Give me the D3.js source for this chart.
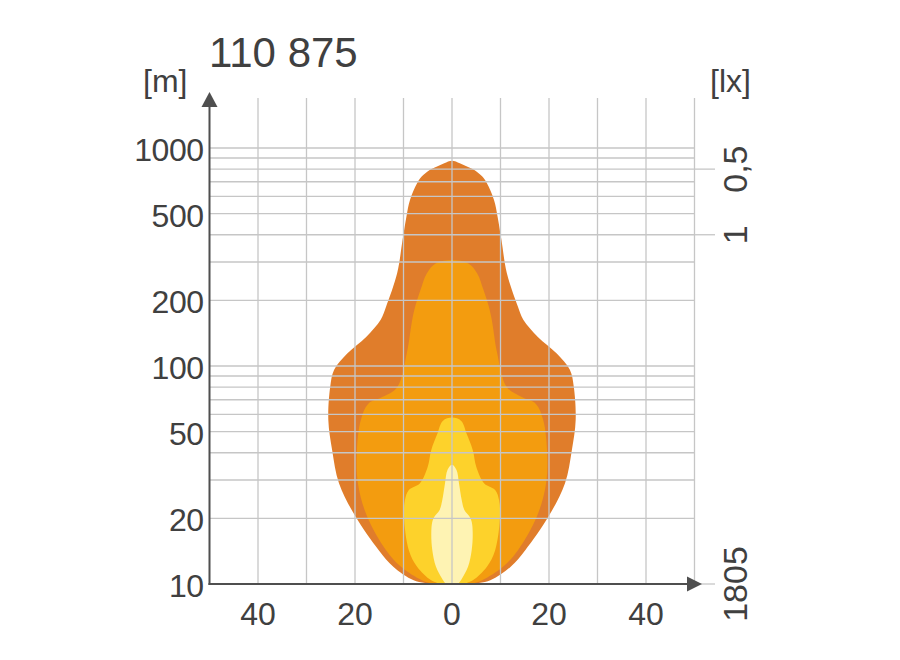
<!DOCTYPE html>
<html>
<head>
<meta charset="utf-8">
<script src="https://cdn.jsdelivr.net/npm/d3@7"></script>
<style>
  html, body { margin: 0; padding: 0; background: #ffffff; }
  svg { display: block; font-family: "Liberation Sans", Arial, sans-serif; }
</style>
</head>
<body>
<svg id="chart" width="900" height="660"></svg>
<script>
// ---- data (lateral half-width in m, distance in m) ----
const title = "110 875";
const yUnit = "[m]";
const rightUnit = "[lx]";

const outerDist = [10, 10.4, 12, 14.3, 20.4, 29, 41, 56.5, 80.5, 96, 114, 136, 163, 187, 267, 378, 484, 577, 689, 738, 793, 821, 851, 873];
const outerHalf = [4.1, 7.9, 12.1, 15.1, 19.9, 23.3, 24.7, 25.5, 25.1, 24.3, 21.6, 17.7, 14.7, 13.6, 11.3, 10.2, 9.4, 8.66, 7.2, 6.3, 4.6, 3.2, 1.6, 0];

const midDist = [10, 10.4, 12, 14.3, 20.4, 29, 41, 56.5, 67, 72, 80, 115, 163, 187, 223, 266, 296, 306];
const midHalf = [4.1, 6.2, 10.5, 13.6, 17.5, 19.4, 19.6, 18.8, 17.3, 14.4, 11.3, 9.3, 8.2, 7.6, 6.5, 5.2, 3.3, 0];

const innerDist = [10, 10.4, 12, 14.3, 20.4, 24.3, 27, 29, 34.5, 41, 49, 56, 58];
const innerHalf = [2.3, 4.3, 7.2, 8.9, 9.9, 9.7, 8.9, 6.6, 5.0, 4.3, 3.0, 1.9, 0];

const coreDist = [10, 10.6, 12, 14.3, 17.1, 19.3, 20.4, 21.8, 24.3, 29, 33.3, 35.2];
const coreHalf = [1.3, 2.06, 3.3, 4.06, 4.27, 4.06, 3.6, 2.58, 2.0, 1.44, 0.93, 0];

const contourColors = ["#E07D2B", "#F39C0F", "#FDD22B", "#FEF3B3"];

const yTickValues = [10, 20, 50, 100, 200, 500, 1000];
const yGridValues = [20, 30, 40, 50, 60, 70, 80, 90, 100, 200, 300, 400, 500, 600, 700, 800, 900, 1000];
const xGridValues = [-40, -30, -20, -10, 0, 10, 20, 30, 40, 50];
const xTickValues = [-40, -20, 0, 20, 40];
const luxTickDist = [800, 400, 10];
const luxTickLabels = ["0,5", "1", "1805"];

// ---- scales ----
const svg = d3.select("#chart");
const x = d3.scaleLinear().domain([-50, 50]).range([209.5, 694.5]);
const y = d3.scaleLog().domain([10, 1000]).range([584, 148]);
const gridTop = 98;
const textColor = "#404040";
const axisColor = "#4f4f4f";
const gridColor = "#c6c6c6";

// ---- contours ----
const contours = [
  {d: outerDist, h: outerHalf},
  {d: midDist, h: midHalf},
  {d: innerDist, h: innerHalf},
  {d: coreDist, h: coreHalf}
];
const line = d3.line()
  .x(p => x(p[0]))
  .y(p => y(p[1]))
  .curve(d3.curveCatmullRom.alpha(0.5));

contours.forEach((c, i) => {
  const right = c.d.map((d, k) => [c.h[k], d]);
  const left = c.d.slice(0, -1).map((d, k) => [-c.h[k], d]).reverse();
  const pts = right.concat(left);
  svg.append("path")
    .attr("d", line(pts) + "Z")
    .attr("fill", contourColors[i]);
});

// ---- grid ----
const grid = svg.append("g").attr("stroke", gridColor).attr("stroke-width", 1.3);
xGridValues.forEach(v => {
  grid.append("line")
    .attr("x1", x(v)).attr("x2", x(v))
    .attr("y1", y(10)).attr("y2", gridTop);
});
yGridValues.forEach(v => {
  grid.append("line")
    .attr("x1", x(-50)).attr("x2", x(50))
    .attr("y1", y(v)).attr("y2", y(v));
});
// extended ticks to the lux scale
luxTickDist.forEach(v => {
  grid.append("line")
    .attr("x1", x(50)).attr("x2", 715)
    .attr("y1", y(v)).attr("y2", y(v));
});

// ---- axes ----
const ax = svg.append("g");
ax.append("line")
  .attr("x1", x(-50)).attr("x2", x(-50))
  .attr("y1", y(10) + 1).attr("y2", 104)
  .attr("stroke", axisColor).attr("stroke-width", 2);
ax.append("path")
  .attr("d", `M${x(-50)},92 L${x(-50) - 8},107 L${x(-50) + 8},107 Z`)
  .attr("fill", axisColor);
ax.append("line")
  .attr("x1", x(-50) - 1).attr("x2", 690)
  .attr("y1", y(10)).attr("y2", y(10))
  .attr("stroke", axisColor).attr("stroke-width", 2);
ax.append("path")
  .attr("d", `M702,${y(10)} L687,${y(10) - 7.5} L687,${y(10) + 7.5} Z`)
  .attr("fill", axisColor);

// ---- texts ----
svg.append("text")
  .attr("x", 209).attr("y", 67)
  .attr("font-size", 42).attr("fill", textColor)
  .text(title);

svg.append("text")
  .attr("x", 143).attr("y", 91.5)
  .attr("font-size", 32).attr("fill", textColor)
  .text(yUnit);

svg.append("text")
  .attr("x", 710).attr("y", 91.5)
  .attr("font-size", 32).attr("fill", textColor)
  .text(rightUnit);

svg.append("g").selectAll("text")
  .data(yTickValues)
  .join("text")
  .attr("x", 203.5)
  .attr("y", d => y(d) + 13)
  .attr("text-anchor", "end")
  .attr("font-size", 32)
  .attr("letter-spacing", -0.5)
  .attr("fill", textColor)
  .text(d => d);

svg.append("g").selectAll("text")
  .data(xTickValues)
  .join("text")
  .attr("x", d => x(d))
  .attr("y", 625)
  .attr("text-anchor", "middle")
  .attr("font-size", 32)
  .attr("fill", textColor)
  .text(d => Math.abs(d));

svg.append("g").selectAll("text")
  .data(luxTickDist)
  .join("text")
  .attr("transform", d => `translate(747,${y(d)}) rotate(-90)`)
  .attr("text-anchor", "middle")
  .attr("font-size", 34)
  .attr("fill", textColor)
  .text((d, i) => luxTickLabels[i]);
</script>
</body>
</html>
